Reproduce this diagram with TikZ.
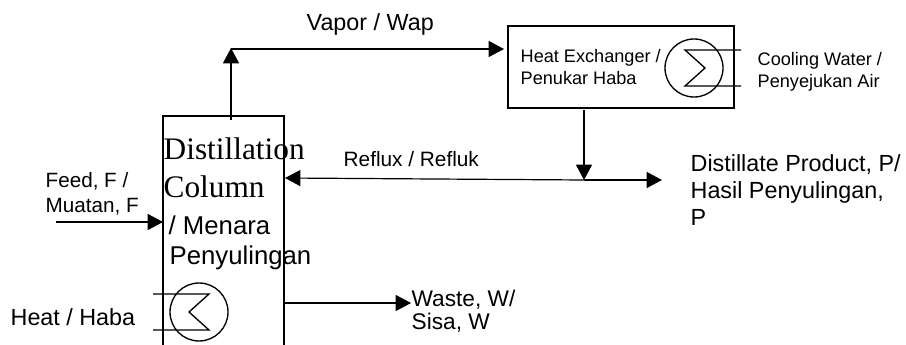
\documentclass[tikz,border=0pt]{standalone}
\usepackage{fontspec}
\setmainfont{Liberation Sans}
\newfontfamily\serifcol{Liberation Serif}
\usetikzlibrary{arrows.meta}

\tikzset{
  label/.style={anchor=base west, inner sep=0pt, align=left},
  flow/.style={-{Triangle[length=11.5pt, width=12pt]}, line width=0.9pt},
  wall/.style={line width=1.4pt},
  coil/.style={line width=1pt}
}

\begin{document}
\begin{tikzpicture}[x=0.75pt, y=-0.75pt, line width=1pt]
    \useasboundingbox (0, 0) rectangle (906, 345);

    % draw distillation column, open at the bottom
    \coordinate (colbl) at (163, 345);
    \coordinate (coltl) at (163, 116);
    \coordinate (coltr) at (284, 116);
    \coordinate (colbr) at (284, 345);
    \draw[wall] (colbl) -- (coltl) -- (coltr) -- (colbr);

    % draw heat exchanger box
    \node[draw, wall, minimum width=169.5pt, minimum height=62pt, inner sep=0pt] (hx) at (621, 67) {};

    % draw column labels
    \node[label, font=\fontsize{23.5}{28}\selectfont\serifcol] (coldist) at (163, 160) {Distillation};
    \node[label, font=\fontsize{23.5}{28}\selectfont\serifcol] (colname) at (163, 198) {Column};
    \node[label, font=\fontsize{19.3}{23}\selectfont] (colmena) at (168, 234) {/ Menara};
    \node[label, font=\fontsize{19.3}{23}\selectfont] (colpeny) at (169, 265) {Penyulingan};

    % draw other labels
    \node[label, font=\fontsize{17.5}{21}\selectfont] (vaporl) at (306, 31) {Vapor / Wap};
    \node[label, font=\fontsize{13.6}{16.5}\selectfont] (hxl1) at (520, 63) {Heat Exchanger /};
    \node[label, font=\fontsize{13.6}{16.5}\selectfont] (hxl2) at (520, 85) {Penukar Haba};
    \node[label, font=\fontsize{13.6}{16.5}\selectfont] (cool1) at (757, 66) {Cooling Water /};
    \node[label, font=\fontsize{13.6}{16.5}\selectfont] (cool2) at (757, 88) {Penyejukan Air};
    \node[label, font=\fontsize{15.6}{18}\selectfont] (refluxl) at (343, 167) {Reflux / Refluk};
    \node[label, font=\fontsize{17.5}{21}\selectfont] (dist1) at (690, 172) {Distillate Product, P/};
    \node[label, font=\fontsize{17.5}{21}\selectfont] (dist2) at (690, 199) {Hasil Penyulingan,};
    \node[label, font=\fontsize{17.5}{21}\selectfont] (dist3) at (690, 226) {P};
    \node[label, font=\fontsize{15.5}{18}\selectfont] (feed1) at (45, 188) {Feed, F /};
    \node[label, font=\fontsize{15.5}{18}\selectfont] (feed2) at (45, 213) {Muatan, F};
    \node[label, font=\fontsize{17}{20}\selectfont] (waste1) at (411, 306) {Waste, W/};
    \node[label, font=\fontsize{17}{20}\selectfont] (waste2) at (411, 329) {Sisa, W};
    \node[label, font=\fontsize{17.5}{21}\selectfont] (heatl) at (10, 325) {Heat / Haba};

    % draw vapor line
    \coordinate (vapb) at (231, 120);
    \coordinate (vapt) at (231, 48);
    \coordinate (vapc) at (231, 49);
    \coordinate (vapr) at (504, 49);
    \draw[flow] (vapb) -- (vapt);
    \draw[flow] (vapc) -- (vapr);

    % draw reflux and product lines
    \coordinate (tee) at (584, 180);
    \coordinate (refl) at (285, 178);
    \coordinate (prod) at (662, 180);
    \coordinate (hxb) at (584, 110);
    \draw[flow] (tee) -- (refl);
    \draw[flow] (tee) -- (prod);
    \draw[flow] (hxb) -- (tee);

    % draw feed and waste lines
    \coordinate (feeda) at (56, 222);
    \coordinate (feedb) at (163, 222);
    \coordinate (wastea) at (284, 303);
    \coordinate (wasteb) at (411, 303);
    \draw[flow] (feeda) -- (feedb);
    \draw[flow] (wastea) -- (wasteb);

    % draw condenser
    \draw[coil] (694, 68) circle (29);
    \draw[coil] (741, 50) -- (685, 50) -- (705, 68) -- (685, 86) -- (741, 86);

    % draw reboiler
    \draw[coil] (199, 312) circle (29);
    \draw[coil] (153, 294) -- (209, 294) -- (189, 312) -- (209, 330) -- (153, 330);

\end{tikzpicture}
\end{document}
